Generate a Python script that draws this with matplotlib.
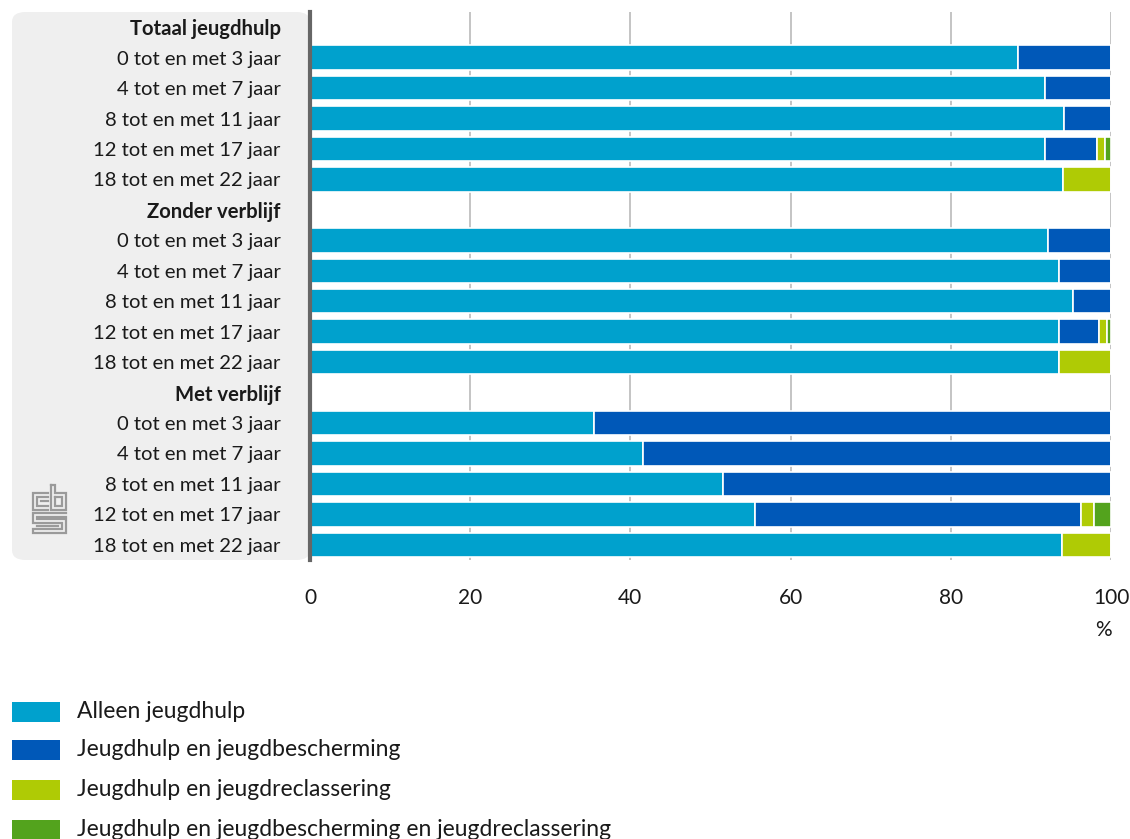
import numpy as np
import matplotlib.pyplot as plt
from matplotlib.patches import FancyBboxPatch, Rectangle

plt.rcParams['font.family'] = ['Lato', 'DejaVu Sans']

# rows of the chart, top to bottom (headers have no bars)
labels = ['Totaal jeugdhulp',
          '0 tot en met 3 jaar', '4 tot en met 7 jaar', '8 tot en met 11 jaar',
          '12 tot en met 17 jaar', '18 tot en met 22 jaar',
          'Zonder verblijf',
          '0 tot en met 3 jaar', '4 tot en met 7 jaar', '8 tot en met 11 jaar',
          '12 tot en met 17 jaar', '18 tot en met 22 jaar',
          'Met verblijf',
          '0 tot en met 3 jaar', '4 tot en met 7 jaar', '8 tot en met 11 jaar',
          '12 tot en met 17 jaar', '18 tot en met 22 jaar']
headers = [0, 6, 12]

alleen = [0, 88.4, 91.8, 94.1, 91.8, 94.0,
          0, 92.1, 93.5, 95.3, 93.5, 93.5,
          0, 35.4, 41.6, 51.6, 55.6, 93.9]
bescherming = [0, 11.6, 8.2, 5.9, 6.5, 0,
               0, 7.9, 6.5, 4.7, 5.0, 0,
               0, 64.6, 58.4, 48.4, 40.6, 0]
reclassering = [0, 0, 0, 0, 1.0, 6.0,
                0, 0, 0, 0, 1.0, 6.5,
                0, 0, 0, 0, 1.7, 6.1]
beide = [0, 0, 0, 0, 0.7, 0,
         0, 0, 0, 0, 0.5, 0,
         0, 0, 0, 0, 2.1, 0]

series = [('Alleen jeugdhulp', alleen, '#00a1cd'),
          ('Jeugdhulp en jeugdbescherming', bescherming, '#0058b8'),
          ('Jeugdhulp en jeugdreclassering', reclassering, '#afcb05'),
          ('Jeugdhulp en jeugdbescherming en jeugdreclassering', beide, '#53a31d')]

W, H = 1130, 839
fig = plt.figure(figsize=(W / 100, H / 100), dpi=100)

def fx(px):
    return px / W

def fy(py):
    return 1 - py / H

# grey label panel
panel = FancyBboxPatch((fx(12), fy(560)), fx(310) - fx(12), fy(12) - fy(560),
                       boxstyle='round,pad=0,rounding_size=0.012',
                       transform=fig.transFigure, facecolor='#efefef',
                       edgecolor='none', zorder=-5)
fig.patches.append(panel)

ax = fig.add_axes([fx(310), fy(560), fx(1111) - fx(310), fy(12) - fy(560)])
ax.patch.set_alpha(0)

y = np.arange(len(labels))
left = np.zeros(len(labels))
for name, vals, color in series:
    vals = np.array(vals)
    ax.barh(y, vals, left=left, height=0.8, color=color,
            edgecolor='white', linewidth=1.2, zorder=3)
    left += vals

ax.set_ylim(len(labels) - 0.5, -0.5)
ax.set_xlim(0, 100)
ax.set_xticks([0, 20, 40, 60, 80, 100])
ax.set_yticks(y)
ax.set_yticklabels(labels)
for i, t in enumerate(ax.get_yticklabels()):
    if i in headers:
        t.set_fontweight('bold')
ax.tick_params(axis='y', length=0, pad=21, labelsize=14.6, labelcolor='#1a1a1a')
ax.tick_params(axis='x', length=0, pad=20, labelsize=15, labelcolor='#1a1a1a')
ax.xaxis.grid(True, color='#c4c4c4', linewidth=1.4, zorder=1)
ax.set_axisbelow(True)
for s in ['top', 'right', 'bottom']:
    ax.spines[s].set_visible(False)
ax.spines['left'].set_color('#666666')
ax.spines['left'].set_linewidth(3)
ax.spines['left'].set_zorder(4)

fig.text(fx(1103), fy(630), '%', ha='center', va='center', fontsize=15,
         color='#1a1a1a')

# legend
leg_y = [712, 750, 790, 830]
for (name, vals, color), ly in zip(series, leg_y):
    fig.patches.append(Rectangle((fx(12), fy(ly + 10)), fx(60) - fx(12),
                                 fy(ly - 10) - fy(ly + 10),
                                 transform=fig.transFigure, facecolor=color,
                                 edgecolor='none'))
    fig.text(fx(77), fy(ly), name, ha='left', va='center', fontsize=16.5,
             color='#1a1a1a')

# cbs logo (simplified)
lax = fig.add_axes([fx(30), fy(537), fx(70) - fx(30), fy(481) - fy(537)])
lax.set_xlim(30, 70)
lax.set_ylim(537, 481)
lax.axis('off')
lc = '#9a9a9a'
lw = 1.6
paths = [
    [(48, 493), (33, 493), (33, 510), (48, 510)],
    [(48, 497), (37, 497), (37, 506), (48, 506)],
    [(48, 501.5), (41, 501.5)],
    [(51, 485), (51, 510), (66, 510), (66, 493), (55, 493), (55, 485), (51, 485)],
    [(55, 497), (62, 497), (62, 506), (55, 506), (55, 497)],
    [(66, 513), (33, 513), (33, 523), (62, 523), (62, 529), (33, 529),
     (33, 533), (66, 533), (66, 519), (37, 519), (37, 517), (66, 517)],
    [(37, 526), (58, 526)],
]
for p in paths:
    xs, ys = zip(*p)
    lax.plot(xs, ys, color=lc, linewidth=lw, solid_joinstyle='miter')

fig.savefig('out.png', dpi=100)
